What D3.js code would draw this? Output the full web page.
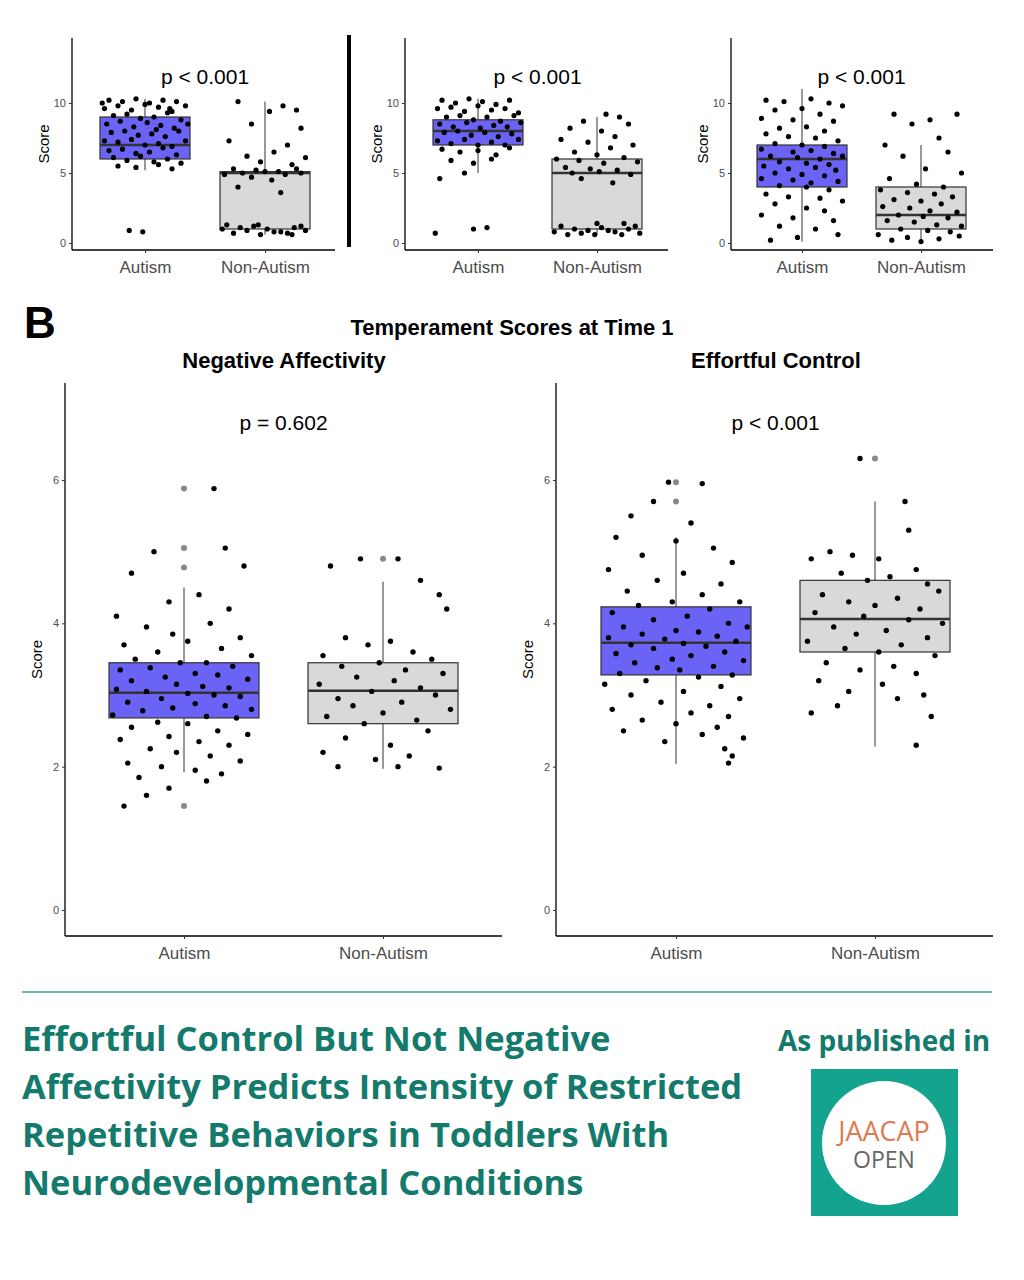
<!DOCTYPE html>
<meta charset="utf-8">
<head>
<style>
body { margin:0; background:#fff; }
text { font-family: "Liberation Sans", Arial, sans-serif; }
.tick text { fill:#4d4d4d; }
.foot { font-family:"Open Sans", sans-serif; font-weight:700; fill:#137a6c; }
</style>
</head>
<body>
<script src="https://cdnjs.cloudflare.com/ajax/libs/d3/7.8.5/d3.min.js"></script>
<script>
//------------------------------ DATA ------------------------------//
var groups = ["Autism", "Non-Autism"];
var topP = ["p < 0.001", "p < 0.001", "p < 0.001"];
var bigP = ["p = 0.602", "p < 0.001"];
var bigTitles = ["Negative Affectivity", "Effortful Control"];
var topTicks = [0, 5, 10];
var bigTicks = [0, 2, 4, 6];

// box stats: [lowWhisker, q1, median, q3, highWhisker]
var topBoxes = [
  [[5.2, 6, 7, 9, 10.3], [0.6, 1, 5, 5.1, 10.1]],
  [[5, 7, 8, 8.8, 10.3], [0.6, 1, 5, 6, 9]],
  [[0.1, 4, 6, 7, 11], [0.1, 1, 2, 4, 7]]
];
var bigBoxes = [
  [[1.92, 2.68, 3.03, 3.45, 4.5], [1.97, 2.6, 3.06, 3.45, 4.58]],
  [[2.04, 3.28, 3.73, 4.23, 5.2], [2.28, 3.6, 4.06, 4.6, 5.7]]
];
// outliers drawn grey on the box centre line
var bigOut = [[[5.88, 5.05, 4.78, 1.45], [4.9]], [[5.97, 5.7], [6.3]]];

// jittered points: [offset -1..1, score]
var top1A = [[-.8,10.2],[-.5,10.1],[-.2,10.3],[.1,10],[.4,10.2],[.7,10.1],[-.9,9.6],[-.6,9.8],[-.3,9.5],[0,9.9],[.3,9.7],[.6,9.4],[.9,9.8],[-.7,9.1],[-.4,9.2],[-.1,8.9],[.2,9],[.5,9.3],[.8,8.8],[-.85,8.5],[-.55,8.7],[-.25,8.3],[.05,8.6],[.35,8.4],[.65,8.2],[.95,8.5],[-.75,7.9],[-.45,8],[-.15,7.7],[.15,7.8],[.45,7.6],[.75,8],[-.9,7.3],[-.6,7.2],[-.3,7.4],[0,7],[.3,7.1],[.6,6.9],[.9,7.3],[-.8,6.6],[-.5,6.7],[-.2,6.4],[.1,6.5],[.4,6.8],[.7,6.3],[-.7,6.1],[-.4,5.9],[-.1,6.2],[.2,5.8],[.5,6],[.8,5.7],[-.6,5.5],[-.2,5.4],[.3,5.6],[.6,5.3],[-.35,0.9],[-.05,0.8],[.55,9.6],[-.95,10],[.25,8.1]];
var top1N = [[-.6,10.1],[.4,9.8],[.7,9.5],[.1,9.4],[-.3,8.5],[.8,8.2],[-.8,7.3],[.5,7],[.2,6.5],[-.4,6.2],[.9,6.1],[-.1,5.8],[.6,5.6],[-.7,5.3],[-.2,5.2],[.3,5.1],[.8,5],[-.9,4.9],[-.5,5],[0,5.1],[.45,4.9],[.7,5.3],[-.3,4.7],[.15,4.5],[-.6,4],[.35,3.6],[-.85,1.3],[-.55,1.1],[-.25,1.2],[.05,1],[.35,0.8],[.65,1.1],[.9,0.9],[-.7,0.7],[-.4,0.9],[-.1,0.6],[.2,0.8],[.5,0.7],[.8,1.2],[-.95,1],[-.15,1.3],[.6,0.6]];
var top2A = [[-.8,10.2],[-.5,10],[-.2,10.3],[.1,10.1],[.4,9.9],[.7,10.2],[-.9,9.6],[-.6,9.7],[-.3,9.4],[0,9.8],[.3,9.5],[.6,9.6],[.9,9.3],[-.7,9],[-.4,9.1],[-.1,8.8],[.2,9],[.5,8.7],[.8,9.1],[-.85,8.5],[-.55,8.3],[-.25,8.6],[.05,8.2],[.35,8.4],[.65,8.3],[.95,8.6],[-.75,7.9],[-.45,8],[-.15,7.7],[.15,7.9],[.45,7.6],[.75,7.8],[-.9,7.3],[-.6,7.1],[-.3,7.4],[0,7],[.3,7.2],[.6,7],[.9,7.4],[-.8,6.7],[-.4,6.5],[0,6.6],[.4,6.3],[.7,6.8],[-.6,5.9],[-.1,5.7],[.3,6],[-.85,4.6],[-.3,5],[-.95,0.7],[-.1,1],[.2,1.1]];
var top2N = [[.2,9.2],[.5,9],[-.3,8.7],[.7,8.5],[-.6,8.2],[.1,8],[.4,7.6],[-.8,7.4],[-.2,7.2],[.8,7],[.3,6.8],[-.5,6.5],[0,6.3],[.6,6.1],[-.9,6],[-.4,5.9],[.15,5.7],[.9,5.8],[-.7,5.4],[-.15,5.3],[.45,5.2],[-.55,5],[.05,5.1],[.75,4.9],[-.35,4.6],[.35,4.3],[-.8,1.2],[-.5,1],[-.2,0.9],[.1,1.1],[.4,0.8],[.7,1],[.95,0.7],[-.65,0.6],[-.35,0.7],[-.05,0.6],[.25,0.9],[.55,0.6],[.85,1.2],[-.95,0.8],[0,1.4],[.6,1.4]];
var top3A = [[-.8,10.2],[-.4,10.1],[.2,10.3],[.6,10],[.9,9.8],[-.6,9.5],[0,9.6],[.4,9.2],[-.9,8.9],[-.2,8.8],[.7,8.7],[-.5,8.2],[.1,8.3],[.5,8],[-.8,7.8],[-.3,7.6],[.3,7.5],[.8,7.3],[-.6,7.1],[0,7],[.5,6.9],[-.9,6.7],[-.2,6.5],[.2,6.6],[.7,6.4],[-.7,6.2],[-.1,6.1],[.4,6],[.9,6.2],[-.5,5.8],[.1,5.7],[.6,5.6],[-.85,5.5],[-.3,5.3],[.3,5.4],[.75,5.2],[-.6,5],[0,4.9],[.5,4.8],[-.9,4.6],[-.2,4.5],[.2,4.3],[.8,4.4],[-.5,4.1],[.1,4],[.6,3.8],[-.8,3.5],[-.3,3.3],[.4,3.2],[.9,3],[-.6,2.8],[.1,2.5],[.5,2.3],[-.9,2],[-.2,1.8],[.7,1.6],[-.5,1.2],[.3,1],[.8,0.6],[-.1,0.4],[-.7,0.2]];
var top3N = [[-.6,9.2],[.8,9.2],[.2,8.8],[-.2,8.5],[.4,7.5],[-.8,7],[.6,6.5],[-.4,6.2],[.1,5.3],[.9,5],[-.7,4.6],[-.1,4.2],[.5,4],[-.9,3.8],[-.3,3.6],[.3,3.5],[.7,3.3],[-.6,3.1],[0,3],[.45,2.8],[-.85,2.6],[-.25,2.5],[.2,2.3],[.8,2.2],[-.5,2],[.05,1.9],[.6,1.8],[-.75,1.6],[-.15,1.5],[.35,1.3],[.9,1.2],[-.45,1],[.15,0.9],[.65,0.8],[-.95,0.6],[-.3,0.4],[.4,0.3],[.85,0.5],[-.65,0.2],[0,0.1]];
var bigNA_A = [[.4,5.88],[.55,5.05],[-.4,5],[-.7,4.7],[.8,4.8],[-.2,4.3],[.2,4.4],[-.9,4.1],[.6,4.2],[-.5,3.95],[.35,4],[-.15,3.85],[.75,3.8],[-.8,3.7],[.05,3.75],[.5,3.65],[-.35,3.6],[.9,3.55],[-.65,3.5],[-.05,3.45],[.3,3.45],[.65,3.4],[-.85,3.35],[-.45,3.38],[.15,3.3],[.45,3.28],[-.25,3.25],[.85,3.22],[-.7,3.2],[-.1,3.15],[.25,3.12],[.6,3.1],[-.9,3.08],[-.5,3.05],[.05,3.02],[.4,3],[.75,2.98],[-.3,2.95],[-.75,2.9],[.15,2.88],[.55,2.85],[-.15,2.82],[.9,2.8],[-.55,2.78],[-.95,2.72],[.3,2.7],[.7,2.68],[-.35,2.62],[.05,2.6],[-.7,2.55],[.45,2.5],[.85,2.45],[-.2,2.42],[-.85,2.38],[.2,2.35],[.6,2.3],[-.45,2.25],[-.1,2.2],[.35,2.15],[-.75,2.05],[.75,2.08],[-.3,2],[.15,1.95],[.5,1.9],[-.6,1.85],[.3,1.8],[-.2,1.7],[-.5,1.6],[-.8,1.45]];
var bigNA_N = [[-.3,4.9],[.2,4.9],[-.7,4.8],[.5,4.6],[.75,4.4],[.85,4.2],[-.5,3.8],[.1,3.75],[-.2,3.7],[.4,3.6],[-.8,3.55],[.65,3.5],[-.05,3.45],[-.55,3.4],[.3,3.35],[.8,3.3],[-.35,3.25],[.15,3.2],[-.85,3.15],[.5,3.1],[-.15,3.05],[.7,3],[-.6,2.95],[.25,2.9],[-.4,2.85],[.9,2.8],[0,2.75],[-.75,2.7],[.45,2.65],[-.25,2.6],[.6,2.5],[-.5,2.4],[.1,2.3],[-.8,2.2],[.35,2.15],[-.1,2.1],[-.6,2],[.2,2],[.75,1.98]];
var bigEC_A = [[-.1,5.97],[-.3,5.7],[.35,5.95],[-.6,5.5],[.2,5.4],[-.8,5.2],[0,5.15],[.5,5.05],[-.45,4.95],[.75,4.85],[-.9,4.75],[.1,4.7],[-.25,4.6],[.6,4.55],[-.65,4.45],[.35,4.4],[.85,4.3],[-.05,4.3],[-.5,4.25],[.45,4.2],[-.85,4.15],[.15,4.1],[-.3,4.05],[.7,4],[.95,3.95],[-.7,3.95],[0,3.9],[.3,3.88],[-.45,3.85],[.55,3.82],[-.9,3.8],[-.15,3.78],[.8,3.75],[.1,3.72],[-.6,3.7],[.4,3.68],[-.3,3.65],[.65,3.6],[-.8,3.58],[.2,3.55],[-.05,3.5],[.9,3.48],[-.55,3.45],[.5,3.4],[-.25,3.38],[.05,3.35],[-.75,3.3],[.75,3.28],[.3,3.25],[-.4,3.2],[-.95,3.15],[.6,3.12],[.1,3.05],[-.6,3],[.85,2.95],[-.2,2.9],[.45,2.85],[-.85,2.8],[.2,2.75],[.7,2.7],[-.45,2.65],[0,2.6],[.55,2.55],[-.7,2.5],[.35,2.45],[.9,2.4],[-.15,2.35],[.65,2.25],[.75,2.15],[.7,2.05]];
var bigEC_N = [[-.2,6.3],[.4,5.7],[.45,5.3],[-.6,5],[-.3,4.95],[.05,4.9],[-.85,4.9],[.55,4.75],[-.45,4.7],[.2,4.65],[-.1,4.6],[.7,4.55],[.85,4.45],[-.7,4.4],[.3,4.35],[-.35,4.3],[0,4.25],[.6,4.2],[-.8,4.15],[-.15,4.1],[.45,4.05],[.9,4],[-.55,3.95],[.15,3.9],[-.25,3.85],[.7,3.8],[-.9,3.75],[.35,3.7],[-.4,3.65],[.05,3.6],[.8,3.55],[-.65,3.45],[.25,3.4],[-.2,3.35],[.55,3.3],[-.75,3.2],[.1,3.15],[-.35,3.05],[.65,3],[-.5,2.85],[.3,2.95],[-.85,2.75],[.75,2.7],[.55,2.3]];
var topPts = [[top1A, top1N], [top2A, top2N], [top3A, top3N]];
var bigPts = [[bigNA_A, bigNA_N], [bigEC_A, bigEC_N]];
var footTitle = ["Effortful Control But Not Negative", "Affectivity Predicts Intensity of Restricted",
  "Repetitive Behaviors in Toddlers With", "Neurodevelopmental Conditions"];

//------------------------------ SVG ------------------------------//
var svg = d3.select("body").append("svg").attr("width", 1024).attr("height", 1280);
var fills = ["#6b63f5", "#d9d9d9"];

function panel(cfg) {
  var y = d3.scaleLinear().domain(cfg.ydom).range([cfg.y0, cfg.y1]);
  var x = d3.scalePoint().domain(groups).range([cfg.xa, cfg.xb]);
  var g = svg.append("g");
  // axes
  var ya = g.append("g").attr("transform", "translate(" + cfg.left + ",0)")
    .call(d3.axisLeft(y).tickValues(cfg.ticks).tickFormat(d3.format("d")).tickSize(3));
  ya.select(".domain").attr("d", "M0," + cfg.top + "V" + cfg.bottom).attr("stroke", "#000").attr("stroke-width", 1.3);
  ya.selectAll(".tick text").style("font-size", cfg.tfs + "px");
  ya.selectAll(".tick line").attr("stroke", "#333");
  var xa = g.append("g").attr("transform", "translate(0," + cfg.bottom + ")")
    .call(d3.axisBottom(x).tickSize(3));
  xa.select(".domain").attr("d", "M" + cfg.left + ",0H" + cfg.right).attr("stroke", "#000").attr("stroke-width", 1.3);
  xa.selectAll(".tick text").style("font-size", "17px").attr("dy", "1em");
  xa.selectAll(".tick line").attr("stroke", "#333");
  g.append("text").attr("transform", "translate(" + (cfg.left - 23) + "," + ((cfg.top + cfg.bottom) / 2) + ") rotate(-90)")
    .attr("text-anchor", "middle").style("font-size", "15px").text("Score");
  g.append("text").attr("x", (cfg.xa + cfg.xb) / 2).attr("y", cfg.py).attr("text-anchor", "middle")
    .style("font-size", "21px").text(cfg.p);
  // boxes
  groups.forEach(function(gr, i) {
    var b = cfg.boxes[i], cx = x(gr), hw = cfg.bw / 2;
    g.append("line").attr("x1", cx).attr("x2", cx).attr("y1", y(b[0])).attr("y2", y(b[4])).attr("stroke", "#333");
    g.append("rect").attr("x", cx - hw).attr("width", cfg.bw).attr("y", y(b[3])).attr("height", y(b[1]) - y(b[3]))
      .attr("fill", fills[i]).attr("stroke", "#333").attr("stroke-width", 1.2);
    g.append("line").attr("x1", cx - hw).attr("x2", cx + hw).attr("y1", y(b[2])).attr("y2", y(b[2]))
      .attr("stroke", "#333").attr("stroke-width", 2.5);
    (cfg.out ? cfg.out[i] : []).forEach(function(v) {
      g.append("circle").attr("cx", cx).attr("cy", y(v)).attr("r", 3).attr("fill", "#888");
    });
    g.selectAll(null).data(cfg.pts[i]).enter().append("circle")
      .attr("cx", function(d) { return cx + d[0] * hw; })
      .attr("cy", function(d) { return y(d[1]); })
      .attr("r", cfg.r).attr("fill", "#000");
  });
}

var topX = [[72, 335, 145, 265], [405, 668, 478, 597], [731, 993, 802, 921]];
topX.forEach(function(t, i) {
  panel({ left: t[0], right: t[1], xa: t[2], xb: t[3], top: 38, bottom: 250, ydom: [0, 10], y0: 243, y1: 103,
    ticks: topTicks, tfs: 11, bw: 90, boxes: topBoxes[i], pts: topPts[i], p: topP[i], py: 84, r: 2.6 });
});
svg.append("line").attr("x1", 349).attr("x2", 349).attr("y1", 35).attr("y2", 247).attr("stroke", "#000").attr("stroke-width", 4);

var bigX = [[65, 502, 184, 383], [556, 993, 676, 875]];
bigX.forEach(function(t, i) {
  panel({ left: t[0], right: t[1], xa: t[2], xb: t[3], top: 383, bottom: 936, ydom: [0, 6], y0: 910, y1: 480,
    ticks: bigTicks, tfs: 11, bw: 150, boxes: bigBoxes[i], pts: bigPts[i], out: bigOut[i], p: bigP[i], py: 430, r: 2.7 });
  svg.append("text").attr("x", [284, 776][i]).attr("y", 368).attr("text-anchor", "middle")
    .style("font-size", "22px").style("font-weight", "700").text(bigTitles[i]);
});
svg.append("text").attr("x", 24).attr("y", 338).style("font-size", "44px").style("font-weight", "700").text("B");
svg.append("text").attr("x", 512).attr("y", 335).attr("text-anchor", "middle")
  .style("font-size", "22px").style("font-weight", "700").text("Temperament Scores at Time 1");

//------------------------------ FOOTER ------------------------------//
svg.append("line").attr("x1", 22).attr("x2", 992).attr("y1", 992).attr("y2", 992).attr("stroke", "#3aa493").attr("stroke-width", 1.3);
footTitle.forEach(function(s, i) {
  svg.append("text").attr("class", "foot").attr("x", 22).attr("y", 1051 + i * 48).style("font-size", "34.5px").text(s);
});
svg.append("text").attr("class", "foot").attr("x", 884).attr("y", 1051).attr("text-anchor", "middle")
  .style("font-size", "28px").text("As published in");
svg.append("rect").attr("x", 811).attr("y", 1069).attr("width", 147).attr("height", 147).attr("fill", "#14a38f");
svg.append("circle").attr("cx", 884).attr("cy", 1143).attr("r", 62).attr("fill", "#fff");
svg.append("text").attr("x", 884).attr("y", 1141).attr("text-anchor", "middle")
  .style("font-family", "Open Sans").style("font-size", "27px").attr("fill", "#e07a4f").text("JAACAP");
svg.append("text").attr("x", 884).attr("y", 1168).attr("text-anchor", "middle")
  .style("font-family", "Open Sans").style("font-size", "23px").attr("fill", "#666").text("OPEN");
</script>
</body>
</html>
